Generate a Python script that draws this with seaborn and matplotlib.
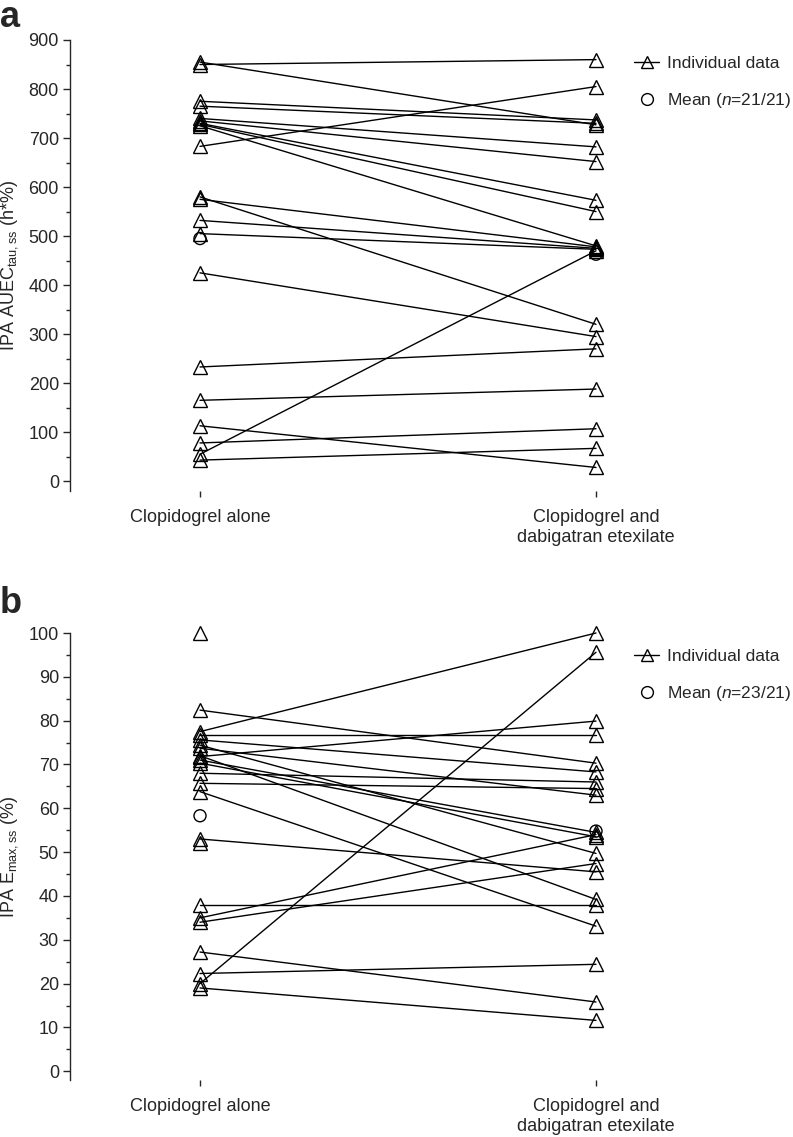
import numpy as np
import pandas as pd
import matplotlib
matplotlib.use("Agg")
import matplotlib.pyplot as plt
from matplotlib.lines import Line2D
from matplotlib.ticker import MultipleLocator
import seaborn as sns

# ---------------- data ----------------
conditions = ["Clopidogrel alone", "Clopidogrel and\ndabigatran etexilate"]

# Panel a: IPA AUEC tau,ss (h*%)
auec_alone = [855, 850, 775, 765, 740, 735, 730, 728, 725, 683, 580, 575, 532, 505,
              425, 233, 165, 113, 78, 55, 43]
auec_combo = [727, 860, 737, 730, 682, 652, 573, 550, 480, 805, 320, 478, 475, 473,
              295, 270, 188, 28, 107, 470, 67]
auec_mean = [495, 463]

# Panel b: IPA Emax,ss (%)  (NaN = no paired value)
emax_alone = [100, 82.4, 77.5, 76.7, 75.6, 74.4, 73.7, 72.0, 71.8, 71.0, 70.3, 68.0,
              65.7, 63.8, 53.0, 52.0, 38.0, 35.0, 34.0, 27.2, 22.3, 20.0, 19.0]
emax_combo = [np.nan, 70.3, 100, 76.7, 68.3, 49.7, 63.0, 39.2, 79.9, 54.5, 53.5, 66.0,
              64.5, 33.1, 45.5, np.nan, 38.0, 54.0, 47.4, 15.8, 24.4, 95.6, 11.6]
emax_mean = [58.3, 54.8]


def long_frame(alone, combo):
    rows = []
    for i, (a, c) in enumerate(zip(alone, combo)):
        rows.append({"subject": i, "x": 0, "value": a})
        if not np.isnan(c):
            rows.append({"subject": i, "x": 1, "value": c})
    return pd.DataFrame(rows)


sns.set_style("ticks")
plt.rcParams["font.family"] = ["Liberation Sans", "DejaVu Sans"]
plt.rcParams["mathtext.fontset"] = "custom"
plt.rcParams["mathtext.rm"] = "Liberation Sans"
plt.rcParams["mathtext.it"] = "Liberation Sans:italic"

W, H = 793, 1137
fig = plt.figure(figsize=(W / 100, H / 100), dpi=100)
L, R = 70 / W, 790 / W
ax_a = fig.add_axes([L, 1 - 491 / H, R - L, (491 - 40) / H])
ax_b = fig.add_axes([L, 1 - 1080 / H, R - L, (1080 - 633) / H])

FS = 13
LFS = 12.5


def draw(ax, alone, combo, mean, ylim, major, minor, ylabel, n_text, leg_top):
    df = long_frame(alone, combo)
    sns.lineplot(data=df, x="x", y="value", units="subject", estimator=None,
                 color="black", linewidth=1.0, marker="^", markersize=10,
                 markerfacecolor="none", markeredgecolor="black",
                 markeredgewidth=1.0, ax=ax, legend=False)
    mdf = pd.DataFrame({"x": [0, 1], "value": mean})
    sns.scatterplot(data=mdf, x="x", y="value", marker="o", s=75,
                    facecolors="none", edgecolors="black", linewidth=1.0,
                    ax=ax, legend=False, zorder=3)
    for art in ax.lines + ax.collections:
        art.set_clip_on(False)
    ax.set_xlim(-130 / 396, 1 + 194 / 396)
    ax.set_ylim(*ylim)
    ax.yaxis.set_major_locator(MultipleLocator(major))
    ax.yaxis.set_minor_locator(MultipleLocator(minor))
    ax.set_yticks(np.arange(0, ylim[1] + 0.1, major))
    ax.set_xticks([0, 1])
    ax.set_xticklabels(conditions, fontsize=FS, linespacing=1.25)
    ax.tick_params(axis="y", which="major", length=5, width=1, labelsize=FS, pad=3)
    ax.tick_params(axis="y", which="minor", length=3, width=1)
    ax.tick_params(axis="x", length=4, width=1, pad=9)
    ax.set_xlabel("")
    ax.set_ylabel(ylabel, fontsize=FS, labelpad=6)
    for s in ["top", "right", "bottom"]:
        ax.spines[s].set_visible(False)
    ax.spines["left"].set_linewidth(1.0)
    ax.spines["left"].set_bounds(ylim[0], ylim[1])
    handles = [
        Line2D([], [], color="black", linewidth=1.0, marker="^", markersize=9,
               markerfacecolor="none", markeredgecolor="black"),
        Line2D([], [], linestyle="none", marker="o", markersize=8.5,
               markerfacecolor="none", markeredgecolor="black"),
    ]
    ax.legend(handles, ["Individual data", n_text], loc="upper left",
              bbox_to_anchor=(634 / W, 1 - leg_top / H),
              bbox_transform=fig.transFigure, frameon=False, fontsize=LFS,
              borderpad=0, borderaxespad=0,
              handlelength=1.45, handletextpad=0.45, labelspacing=1.15)


draw(ax_a, auec_alone, auec_combo, auec_mean, (-20, 900), 100, 50,
     r"IPA AUEC$_{\mathrm{tau,ss}}$ (h*%)", r"Mean ($\mathit{n}$=21/21)", 56)
draw(ax_b, emax_alone, emax_combo, emax_mean, (-2, 100), 10, 5,
     r"IPA E$_{\mathrm{max,ss}}$ (%)", r"Mean ($\mathit{n}$=23/21)", 649)

fig.text(0.0, 1 - 0 / H, "a", fontsize=26, fontweight="bold", va="top", ha="left")
fig.text(0.0, 1 - 586 / H, "b", fontsize=26, fontweight="bold", va="top", ha="left")

fig.savefig("out.png", dpi=100)
